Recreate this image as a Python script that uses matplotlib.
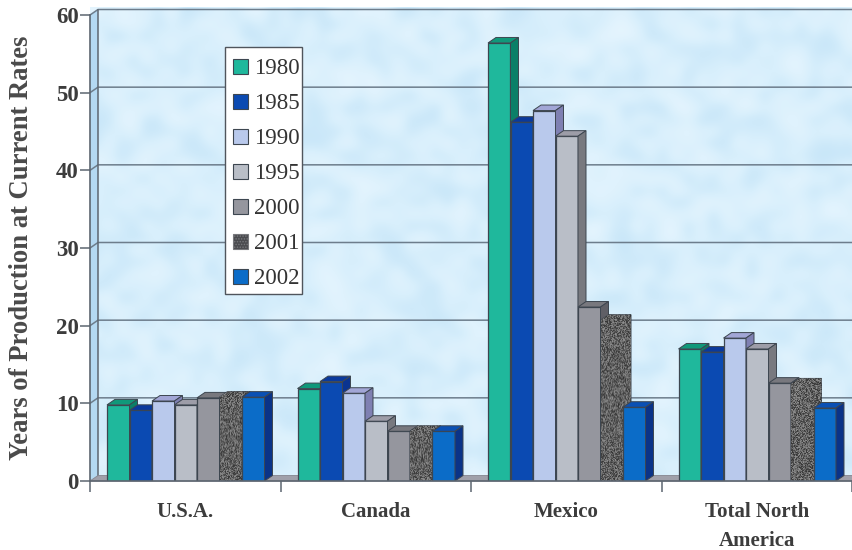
import numpy as np
import matplotlib
matplotlib.use("Agg")
import matplotlib.pyplot as plt
from matplotlib.colors import LinearSegmentedColormap
from matplotlib.patches import Polygon, Patch, Rectangle

plt.rcParams['font.family'] = 'Liberation Serif'
plt.rcParams['font.weight'] = 'bold'
plt.rcParams['axes.labelweight'] = 'bold'
plt.rcParams['hatch.linewidth'] = 0.7

regions = ['U.S.A.', 'Canada', 'Mexico', 'Total North\nAmerica']
years = ['1980', '1985', '1990', '1995', '2000', '2001', '2002']

v1980 = [9.8, 11.9, 56.4, 17.0]
v1985 = [9.1, 12.8, 46.2, 16.6]
v1990 = [10.3, 11.3, 47.7, 18.4]
v1995 = [9.8, 7.7, 44.4, 17.0]
v2000 = [10.7, 6.4, 22.4, 12.6]
v2001 = [10.8, 6.4, 20.7, 12.5]
v2002 = [10.8, 6.4, 9.5, 9.4]
series = [v1980, v1985, v1990, v1995, v2000, v2001, v2002]

front = ['#1fb89c', '#0b4ab2', '#b9c9ec', '#b9bec7', '#95969e', '#55565a', '#0b6cc8']
top = ['#10987a', '#0a399c', '#a2a6d6', '#9d9da8', '#78787e', '#55565a', '#0a50b4']
side = ['#0b7f68', '#0a3490', '#7f80b2', '#78797f', '#5f5f66', '#55565a', '#0a3388']
edge = '#3d4650'

W, H = 852, 550
fig = plt.figure(figsize=(W / 100, H / 100), dpi=100)
ax = fig.add_axes([90 / W, 1 - 481 / H, 762 / W, 466 / H])
ax.set_xlim(0, 4)
ax.set_ylim(0, 60)

# depth of the fake 3d box, in data units
px_x = 762 / 4
px_y = 466 / 60
dx = 8 / px_x
dy = 5.5 / px_y
bar_w = 22.5 / px_x
bar_start = 17 / px_x

rng = np.random.RandomState(4)

# mottled blue wall, smooth noise stretched over the back wall
clouds = rng.rand(40, 62)
wall_cmap = LinearSegmentedColormap.from_list('wall', ['#c6e5f8', '#d8effc', '#e6f5fe'])
wall = ax.imshow(clouds, extent=(0, 4.1, 0, 61), cmap=wall_cmap, interpolation='bicubic',
                 aspect='auto', zorder=0, clip_on=False)
wall_shape = Polygon([(dx, dy), (4.1, dy), (4.1, 60 + dy), (dx, 60 + dy)],
                     transform=ax.transData, fill=False, edgecolor='none')
ax.add_patch(wall_shape)
wall.set_clip_path(wall_shape)

# left side wall is a shade darker
ax.add_patch(Polygon([(0, 0), (dx, dy), (dx, 60 + dy), (0, 60)], facecolor='#b4d9f2', edgecolor='none',
                     zorder=0.5, clip_on=False))

# gridlines run along the back wall and step down the left side
for g in range(10, 70, 10):
    ax.plot([0, dx, 4.1], [g, g + dy, g + dy], color='#6d7d8c', lw=1.1, zorder=1, clip_on=False)
ax.plot([dx, dx], [dy, 60 + dy], color='#5d6670', lw=1.1, zorder=1, clip_on=False)

# floor
ax.add_patch(Polygon([(0, 0), (dx, dy), (4.1, dy), (4.1, 0)], facecolor='#a0a0aa', edgecolor='#85858f',
                     lw=0.6, zorder=1, clip_on=False))

for j, vals in enumerate(series):
    z = 3 + j
    lefts = [i + bar_start + j * bar_w for i in range(len(regions))]
    ax.bar(lefts, vals, width=bar_w, align='edge', color=front[j], edgecolor=edge, lw=0.9, zorder=z)
    for x, v in zip(lefts, vals):
        ax.add_patch(Polygon([(x, v), (x + dx, v + dy), (x + bar_w + dx, v + dy), (x + bar_w, v)],
                             facecolor=top[j], edgecolor=edge, lw=0.7, zorder=z))
        ax.add_patch(Polygon([(x + bar_w, 0), (x + bar_w + dx, dy), (x + bar_w + dx, v + dy), (x + bar_w, v)],
                             facecolor=side[j], edgecolor=edge, lw=0.7, zorder=z))
        if years[j] == '2001':
            # speckled fill for this year, front and depth faces together
            grain = rng.rand(int(v * px_y) + 6, 31)
            im = ax.imshow(grain, extent=(x, x + bar_w + dx, 0, v + dy), cmap='gray', vmin=-0.55, vmax=2.2,
                           interpolation='bilinear', aspect='auto', zorder=z + 0.5)
            shape = Polygon([(x, 0), (x + bar_w, 0), (x + bar_w + dx, dy), (x + bar_w + dx, v + dy),
                             (x + dx, v + dy), (x, v)], transform=ax.transData, fill=False, edgecolor='none')
            ax.add_patch(shape)
            im.set_clip_path(shape)

ax.set_xlim(0, 4)
ax.set_ylim(0, 60)

for s in ['top', 'right']:
    ax.spines[s].set_visible(False)
for s in ['left', 'bottom']:
    ax.spines[s].set_color('#5d6670')
    ax.spines[s].set_linewidth(1.2)
    ax.spines[s].set_zorder(20)

ax.set_yticks(range(0, 70, 10))
ax.tick_params(axis='y', length=7, width=1.1, color='#5d6670', labelsize=16.5, labelcolor='#3c3c3c', pad=1)
ax.set_xticks(range(5))
ax.set_xticklabels([])
ax.tick_params(axis='x', which='major', length=8, width=1.1, color='#5d6670')
ax.set_xticks([i + 0.5 for i in range(4)], labels=regions, minor=True)
ax.tick_params(axis='x', which='minor', length=0, labelsize=15, labelcolor='#3c3c3c', pad=15)
for lab in ax.get_xticklabels(minor=True):
    lab.set_linespacing(1.62)

ax.set_ylabel('Years of Production at Current Rates', fontsize=19.2, color='#4a4a4a', labelpad=16)

# legend box drawn separately so it can sit tighter than the legend's own frame
ax.add_patch(Rectangle(((225 - 90) / px_x, (481 - 294) / px_y), 77 / px_x, 247 / px_y, facecolor='white',
                       edgecolor='#50555c', lw=1.0, zorder=29))
handles = [Patch(facecolor=front[j], edgecolor=edge, lw=0.8) for j in range(7)]
handles[5] = Patch(facecolor='#4a4b4f', edgecolor='#77787c', hatch='......', lw=0.8)
leg = ax.legend(handles, years, loc='upper left', bbox_to_anchor=((222 - 90) / 762, (481 - 47) / 466),
                frameon=False, handlelength=0.65, handleheight=0.65, handletextpad=0.26, labelspacing=0.61,
                borderpad=0.5, borderaxespad=0, labelcolor='#333333',
                prop={'size': 16.5, 'weight': 'normal'})
leg.set_zorder(30)

fig.savefig('out.png', dpi=100)
